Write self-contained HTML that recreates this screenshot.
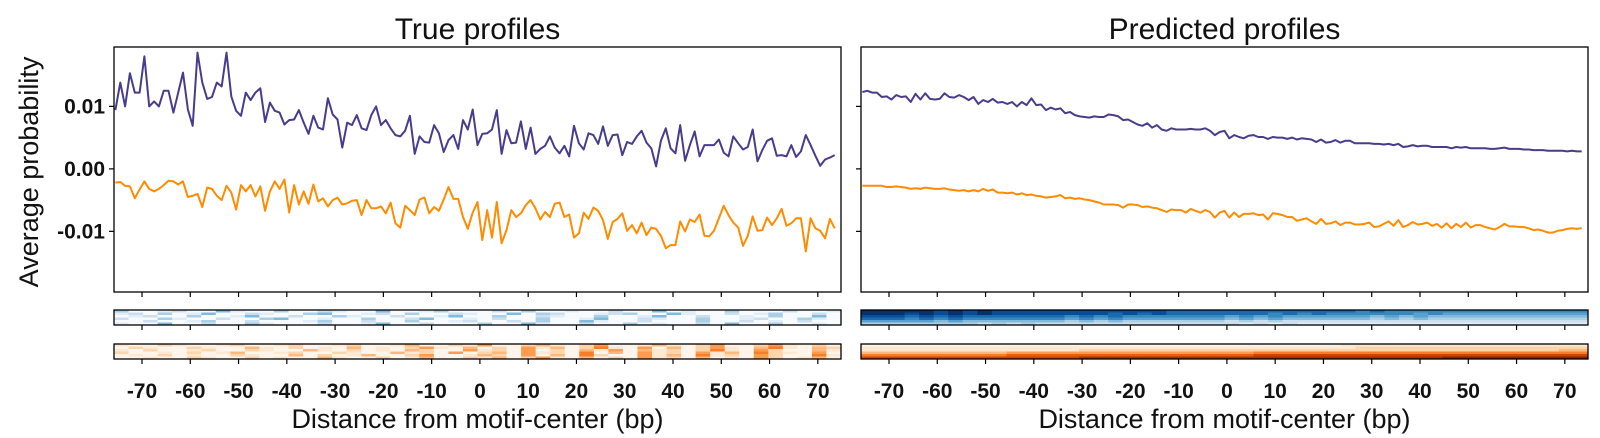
<!DOCTYPE html>
<html><head><meta charset="utf-8"><style>
html,body{margin:0;padding:0;background:#fff;}
svg{display:block;font-family:"Liberation Sans",sans-serif;}
.tk{font-size:21px;font-weight:bold;fill:#111;}
</style></head><body>
<svg id="chart" width="1600" height="438" viewBox="0 0 1600 438" xmlns="http://www.w3.org/2000/svg"></svg>
<script>
const xTicks=[-70,-60,-50,-40,-30,-20,-10,0,10,20,30,40,50,60,70];
const yTicks=[0.01,0.00,-0.01];
const yTickLabels=["0.01","0.00","-0.01"];
const truePos=[9.4,13.8,10.0,15.3,12.2,12.2,18.0,10.0,10.8,10.0,12.5,12.5,9.0,12.2,15.4,9.5,6.9,18.6,13.8,11.2,11.5,13.8,13.2,18.6,11.6,9.3,8.5,12.2,11.0,12.2,12.9,7.5,10.6,9.3,9.0,7.1,7.8,7.9,9.4,7.4,5.6,8.5,6.6,6.3,11.3,8.7,7.9,3.4,7.4,7.0,8.6,6.5,6.2,8.6,10.0,7.0,7.8,6.5,5.4,5.2,6.1,8.5,2.4,5.2,4.3,4.2,7.0,5.7,2.7,4.6,5.4,3.2,7.8,6.3,
9.5,3.8,5.6,5.7,6.3,9.4,2.4,6.2,4.1,4.2,7.6,3.2,6.6,2.4,3.2,3.7,5.2,3.4,2.5,3.7,2.0,6.9,4.1,3.1,5.7,5.4,4.0,6.8,3.7,5.4,5.5,2.2,4.3,4.0,5.2,6.1,4.2,3.3,0.4,4.5,6.5,3.3,2.5,7.0,1.3,3.8,6.0,2.0,3.8,3.8,3.8,4.7,2.6,2.0,5.2,4.1,3.1,3.5,6.3,1.2,3.0,4.5,4.9,2.1,2.2,2.0,3.8,1.9,2.8,5.4,3.8,2.1,0.5,1.5,1.8,2.2];
const trueNeg=[-2.2,-2.1,-2.7,-2.8,-4.7,-3.3,-2.0,-3.2,-3.6,-3.2,-2.6,-1.9,-2.0,-2.5,-2.0,-4.5,-4.3,-4.0,-6.1,-3.0,-3.2,-4.3,-5.0,-2.7,-3.8,-6.5,-2.6,-3.6,-2.6,-4.4,-2.8,-6.7,-3.6,-2.0,-3.2,-1.7,-7.0,-2.6,-5.7,-3.6,-5.6,-2.5,-5.2,-4.7,-6.0,-5.0,-4.6,-5.7,-5.5,-5.1,-5.0,-7.4,-5.0,-6.3,-6.3,-6.0,-7.1,-5.4,-8.7,-9.4,-5.9,-6.6,-7.4,-4.9,-4.6,-7.1,-6.1,-6.7,-4.9,-2.9,-4.8,-4.8,-7.7,-9.6,
-7.0,-5.3,-11.4,-6.6,-11.0,-5.3,-11.9,-9.8,-6.6,-7.7,-7.1,-5.8,-5.0,-6.3,-8.1,-6.9,-7.7,-5.6,-5.4,-7.7,-7.3,-11.0,-10.3,-7.0,-8.0,-6.2,-6.7,-8.2,-11.2,-8.5,-8.0,-7.1,-9.9,-9.0,-10.3,-8.6,-10.6,-9.4,-9.6,-10.7,-12.7,-12.2,-12.2,-8.4,-10.0,-8.1,-8.5,-7.3,-10.7,-10.8,-9.9,-7.9,-5.9,-7.4,-8.6,-9.4,-12.3,-10.7,-7.6,-9.9,-9.8,-7.8,-9.0,-7.9,-6.4,-9.1,-8.7,-7.9,-7.9,-13.2,-7.9,-9.5,-9.9,-11.1,-8.0,-9.5];
const predPos=[12.3,12.5,12.2,12.2,11.5,11.6,11.1,11.8,11.5,11.6,10.7,12.0,11.1,12.1,11.2,11.1,11.2,12.1,11.5,11.4,11.8,11.5,11.0,11.5,10.4,11.0,10.7,11.2,10.6,10.7,10.4,10.7,10.0,10.7,10.2,11.3,10.2,10.3,9.4,9.8,9.5,9.7,8.9,9.1,8.6,8.4,8.3,8.2,8.4,8.3,8.3,8.7,8.6,8.4,7.8,7.9,7.5,7.1,6.9,7.3,6.6,7.0,6.3,6.1,6.5,6.3,6.3,6.3,6.4,6.3,
6.3,6.5,6.1,5.4,5.9,6.1,4.9,5.4,5.1,4.9,5.3,5.4,5.1,5.1,4.8,5.1,5.0,5.0,4.8,5.0,4.7,4.9,4.8,4.7,4.3,4.7,4.2,4.3,4.6,4.2,4.5,4.5,4.1,4.1,4.1,4.1,4.0,4.0,3.9,4.0,3.8,4.0,3.5,3.6,3.8,3.6,3.7,3.7,3.5,3.5,3.5,3.5,3.3,3.5,3.4,3.5,3.3,3.3,3.3,3.3,3.2,3.2,3.3,3.4,3.2,3.2,3.2,3.1,3.1,3.0,3.0,3.0,2.9,2.9,2.9,2.9,2.8,2.9,2.8,2.8];
const predNeg=[-2.7,-2.7,-2.7,-2.7,-2.7,-2.9,-2.9,-2.8,-2.9,-3.0,-3.2,-3.1,-3.2,-3.0,-3.1,-3.2,-3.2,-3.1,-3.3,-3.4,-3.5,-3.4,-3.6,-3.4,-3.6,-3.2,-3.5,-3.3,-3.8,-3.8,-3.9,-3.8,-4.1,-3.9,-4.2,-4.1,-4.3,-4.4,-4.6,-4.5,-4.4,-4.2,-4.7,-4.6,-4.8,-4.7,-4.9,-5.0,-5.2,-5.4,-5.7,-5.7,-5.7,-5.8,-6.2,-5.7,-5.7,-5.8,-6.1,-6.0,-6.2,-6.3,-6.6,-6.9,-6.5,-6.6,-6.6,-7.0,-6.4,-6.7,
-7.0,-6.6,-6.9,-7.8,-7.0,-6.7,-7.8,-7.0,-7.7,-7.2,-7.2,-7.1,-7.4,-7.3,-8.1,-7.1,-7.2,-7.4,-7.7,-7.7,-8.3,-8.1,-7.9,-8.4,-8.8,-8.0,-8.8,-8.7,-8.4,-9.0,-8.6,-8.6,-8.9,-8.9,-8.8,-8.6,-9.3,-9.2,-8.8,-8.4,-9.1,-8.2,-9.3,-9.0,-8.5,-8.9,-8.8,-8.6,-9.1,-8.8,-9.4,-8.7,-9.5,-8.8,-9.3,-8.6,-9.4,-9.0,-9.0,-9.3,-9.5,-9.7,-9.3,-8.8,-9.2,-9.2,-9.3,-9.3,-9.5,-9.8,-9.7,-9.9,-10.2,-10.2,-9.9,-9.8,-9.6,-9.5,-9.6,-9.5];
const heatTrueBlue=["30012004100300210040013000203001002004010030002001","12030140021003400120300210040320012300410020130020","01200300140020031002001400300210030014002001030040","20031002003400100300240010200300140021003001200310","00200130020001300200300120020300410020003002010200","10040020031000200140020003004100200301002040030010"];
const heatTrueOrange=["10021001200120012001300214002310240013102400241020","02100210031020103010241030204130251040302410351032","10200120021003102010320041204020314031202510420031","20010201300120021003120402304120503041204130521040","01020100210030201300240013204030520041305120420051","00100210020100310020130021302410302041203010420130"];
const heatPredBlue=["99999898988888888888877777777777776766666666666666","99989898988888888787877777776767666666565555555555","88878787777777676766666665656555555454544444444444","77767676666666565655555554545444444343433333333333","55555454444444343433333332323222222222222222222222","33333333232322222222222222121211111111111111111111"];
const heatPredOrange=["00000000000000000000000000000000011111111111111111","11111111111111111111111111111111112222222222222222","11111111111111122222222222222222222222222222222233","33333333334444444444444444455555555555555555555555","55555555556666666666666666677777777777777777777777","77777777777777788888888888888888888888889999999999"];

const NS="http://www.w3.org/2000/svg";
const svg=document.getElementById('chart');
function mk(tag,attrs,parent){const e=document.createElementNS(NS,tag);for(const k in attrs)e.setAttribute(k,attrs[k]);(parent||svg).appendChild(e);return e;}
const X0=-75.8,X1=74.8,Y0=-0.0197,Y1=0.0195;
const PT=47,PB=292,PW=727;
const blues=[[247,251,255],[222,235,247],[198,219,239],[158,202,225],[107,174,214],[66,146,198],[33,113,181],[8,81,156],[8,48,107]];
const oranges=[[255,245,235],[254,230,206],[253,208,162],[253,174,107],[253,141,60],[241,105,19],[217,72,1],[166,54,3],[127,39,4]];
function cmap(stops,t){const p=t*(stops.length-1);const i=Math.min(Math.floor(p),stops.length-2);const f=p-i;const c=stops[i].map((v,k)=>Math.round(v+(stops[i+1][k]-v)*f));return `rgb(${c[0]},${c[1]},${c[2]})`;}

function panel(left,key,title,pos,neg,hb,ho,showY){
  const sx=v=>left+(v-X0)/(X1-X0)*PW;
  const sy=v=>PB-(v-Y0)/(Y1-Y0)*(PB-PT);
  const g=mk('g',{});
  
  
  const t=mk('text',{x:left+PW/2,y:39,'text-anchor':'middle','font-size':'30',fill:'#111'},g);t.textContent=title;
  
  
  function line(arr,color,name){
    const d=arr.map((v,i)=>(i?'L':'M')+sx(i-75.5).toFixed(1)+' '+sy(v/1000).toFixed(1)).join(' ');
    const p=mk('path',{d:d,fill:'none',stroke:color,'stroke-width':'2','stroke-linejoin':'round'},g);
    
    
  }
  line(pos,'#483d8b',key+'-positive-strand-line');
  line(neg,'#ff8c00',key+'-negative-strand-line');
  const fr=mk('rect',{x:left,y:PT,width:PW,height:PB-PT,fill:'none',stroke:'#000','stroke-width':'1.3'},g);
  
  
  yTicks.forEach((v,i)=>{
    mk('line',{x1:left-5,x2:left,y1:sy(v),y2:sy(v),stroke:'#000','stroke-width':'1.2'},g);
    if(showY){const tt=mk('text',{x:left-9,y:sy(v)+7,'text-anchor':'end',class:'tk'},g);tt.textContent=yTickLabels[i];
      
      }
  });
  xTicks.forEach(v=>mk('line',{x1:sx(v),x2:sx(v),y1:PB,y2:PB+5,stroke:'#000','stroke-width':'1.2'},g));
  function heat(rows,stops,top,h,name){
    const hg=mk('g',{},g);
    
    
    const rh=h/rows.length;
    rows.forEach((r,ri)=>{const n=r.length;const cw=PW/n;
      for(let c=0;c<n;c++){mk('rect',{x:(left+c*cw).toFixed(2),y:(top+ri*rh).toFixed(2),width:(cw+0.4).toFixed(2),height:(rh+0.3).toFixed(2),fill:cmap(stops,(+r[c])/9)},hg);}
    });
    mk('rect',{x:left,y:top,width:PW,height:h,fill:'none',stroke:'#000','stroke-width':'1.3'},hg);
    xTicks.forEach(v=>mk('line',{x1:sx(v),x2:sx(v),y1:top+h,y2:top+h+5,stroke:'#000','stroke-width':'1.2'},hg));
  }
  heat(hb,blues,310,15,key+'-positive-heatmap');
  heat(ho,oranges,344,15,key+'-negative-heatmap');
  xTicks.forEach(v=>{const tt=mk('text',{x:sx(v),y:398,'text-anchor':'middle',class:'tk'},g);tt.textContent=String(v);
    
    });
  const xl=mk('text',{x:left+PW/2,y:428,'text-anchor':'middle','font-size':'27',fill:'#111'},g);xl.textContent='Distance from motif-center (bp)';
  
  
}
panel(114,'true','True profiles',truePos,trueNeg,heatTrueBlue,heatTrueOrange,true);
panel(861,'predicted','Predicted profiles',predPos,predNeg,heatPredBlue,heatPredOrange,false);
const yl=mk('text',{x:0,y:0,'text-anchor':'middle','font-size':'27',fill:'#111',transform:'translate(38,172) rotate(-90)'});
yl.textContent='Average probability';


</script>
</body></html>
